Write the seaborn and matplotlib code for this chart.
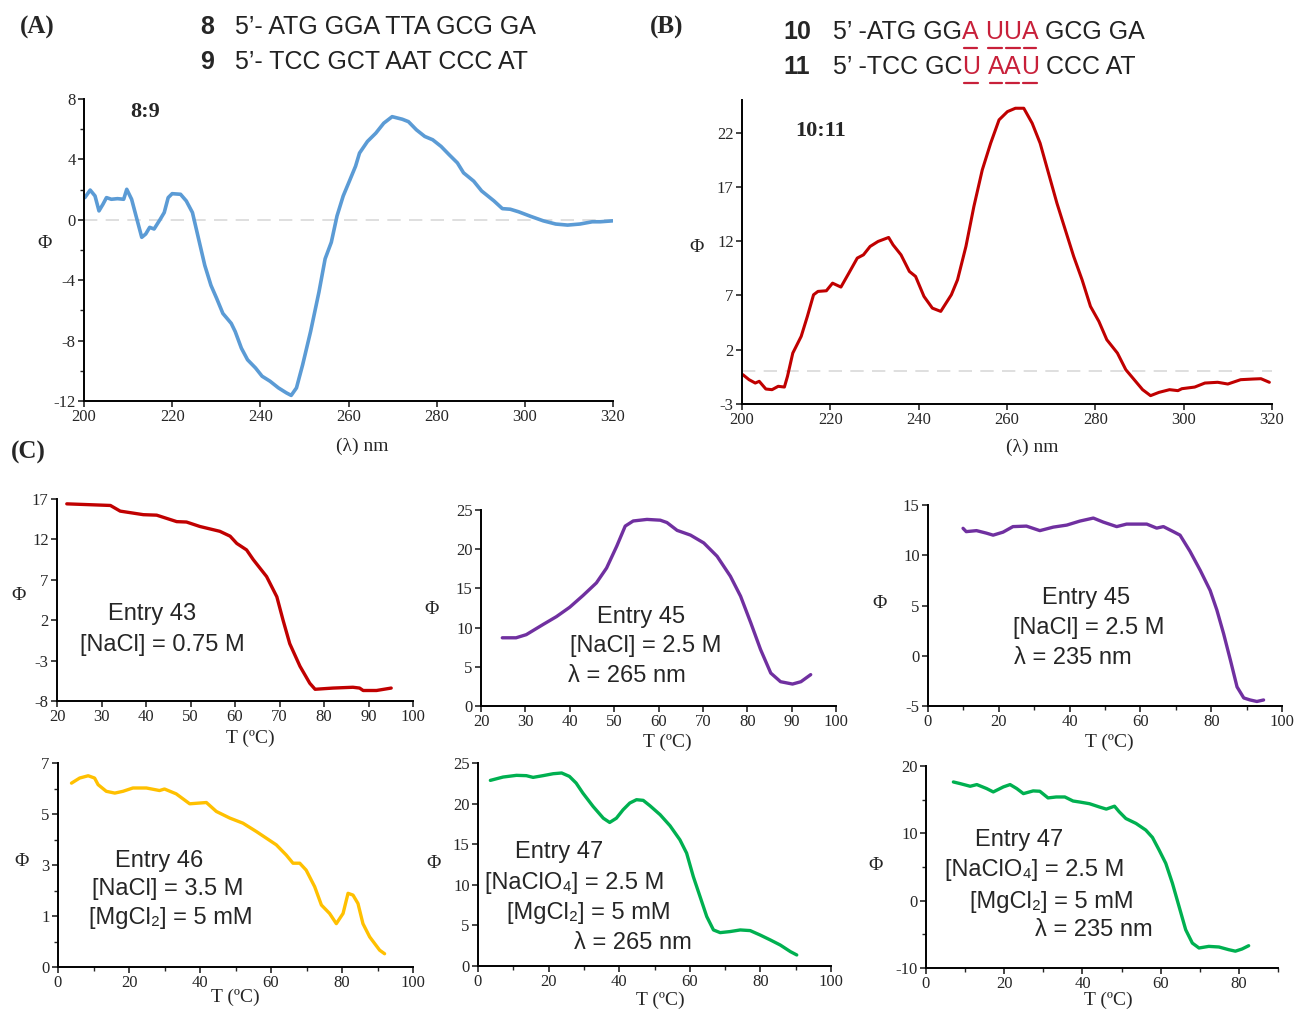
import matplotlib
matplotlib.use("Agg")
import matplotlib.pyplot as plt
import seaborn as sns
import numpy as np
from matplotlib.ticker import MultipleLocator, FixedLocator

# Panel A: CD spectrum of 8:9
a_wl=[200.2,201.4,202.5,203.4,204.3,205.1,206.2,207.6,209.0,209.7,210.8,212.0,213.1,214.0,214.9,215.9,217.3,218.2,219.1,220.0,
	221.9,223.2,224.6,226.0,227.4,228.8,230.1,231.5,233.4,234.3,235.7,237.1,238.9,240.4,242.2,244.1,245.9,247.0,248.2,249.6,
	251.4,253.3,254.7,256.1,257.4,258.8,260.2,261.6,262.5,264.3,266.2,268.0,269.9,272.2,273.6,275.4,277.3,279.1,281.0,282.8,
	284.7,286.1,288.4,290.2,293.0,294.9,296.7,298.6,301.4,304.2,307.0,309.7,312.5,315.3,317.1,319.9]
a_phi=[1.47,1.97,1.58,0.59,1.03,1.47,1.36,1.40,1.36,2.02,1.36,0.04,-1.16,-0.94,-0.50,-0.61,0.04,0.48,1.47,1.73,
	1.69,1.25,0.48,-1.27,-3.02,-4.34,-5.21,-6.20,-6.86,-7.40,-8.50,-9.27,-9.81,-10.36,-10.69,-11.13,-11.46,-11.63,-11.13,-9.60,
	-7.40,-4.78,-2.58,-1.49,0.26,1.58,2.56,3.55,4.42,5.19,5.74,6.40,6.83,6.66,6.50,5.96,5.52,5.30,4.86,4.32,
	3.77,3.11,2.56,1.91,1.25,0.74,0.70,0.53,0.22,-0.07,-0.28,-0.35,-0.28,-0.13,-0.13,-0.07]
a_yticks=[-12,-8,-4,0,4,8]

# Panel B: CD spectrum of 10:11
b_wl=[200.2,201.6,203.0,203.9,205.4,206.8,208.2,209.6,210.3,211.5,213.4,214.8,216.2,217.2,219.1,220.5,222.4,224.2,226.1,227.5,
	229.0,230.8,233.2,234.2,236.0,237.9,239.3,241.2,243.1,245.0,247.4,248.8,250.7,252.5,254.4,256.3,258.2,260.1,261.9,263.8,
	265.7,267.5,269.4,271.3,273.2,275.1,277.0,278.9,280.8,282.6,285.0,286.9,288.8,290.7,292.5,294.4,296.8,298.7,299.6,302.5,
	304.8,307.7,310.0,312.9,315.7,317.5,319.4]
b_phi=[-0.30,-0.76,-1.07,-0.91,-1.62,-1.68,-1.37,-1.44,-0.45,1.69,3.23,5.07,7.06,7.37,7.43,8.13,7.77,9.06,10.44,10.74,
	11.51,11.97,12.34,11.66,10.74,9.21,8.75,6.91,5.83,5.53,7.06,8.44,11.51,15.19,18.56,21.02,23.17,23.93,24.24,24.24,
	22.86,21.02,18.26,15.50,13.04,10.59,8.44,5.99,4.61,2.92,1.69,0.16,-0.76,-1.68,-2.23,-1.93,-1.68,-1.77,-1.59,-1.44,
	-1.07,-1.00,-1.16,-0.76,-0.70,-0.67,-1.00]
b_yticks=[-3,2,7,12,17,22]

# Panel C: melting curves
e43_t=[22.2,32.0,34.2,39.4,42.4,46.9,49.1,52.1,56.6,58.9,60.4,62.6,64.1,67.1,69.4,70.8,72.3,74.6,76.8,78.0,82.0,86.5,88.0,88.8,91.8,95.1]
e43_phi=[16.4,16.2,15.5,15.06,15.0,14.2,14.15,13.6,13.0,12.4,11.5,10.7,9.5,7.4,4.9,2.0,-0.9,-3.7,-5.8,-6.55,-6.4,-6.3,-6.4,-6.7,-6.7,-6.4]
e43_yticks=[-8,-3,2,7,12,17]

e45a_t=[24.8,27.9,30.2,34.0,37.0,40.0,43.0,46.0,48.3,50.6,52.5,54.3,57.4,60.4,61.9,64.2,67.2,70.2,73.2,76.2,78.5,80.8,83.0,85.3,87.5,90.2,92.1,94.3]
e45a_phi=[8.7,8.7,9.1,10.4,11.4,12.6,14.1,15.7,17.6,20.4,22.95,23.6,23.8,23.7,23.4,22.4,21.8,20.8,19.1,16.55,14.0,10.6,7.2,4.2,3.1,2.8,3.1,4.0]
e45a_yticks=[0,5,10,15,20,25]

e45b_t=[9.9,10.8,13.7,16.5,18.4,21.2,24.0,27.8,31.6,35.4,39.2,42.9,46.7,49.5,53.3,56.1,59.0,61.8,64.6,66.5,69.3,71.2,74.0,76.9,79.7,81.6,83.5,85.4,87.3,89.2,91.0,92.9,94.8]
e45b_phi=[12.68,12.35,12.45,12.2,12.0,12.3,12.85,12.9,12.45,12.8,13.0,13.4,13.7,13.3,12.85,13.1,13.1,13.1,12.7,12.85,12.35,12.0,10.4,8.5,6.5,4.55,2.2,-0.4,-3.1,-4.2,-4.4,-4.55,-4.4]
e45b_yticks=[-5,0,5,10,15]

e46_t=[3.8,6.1,8.5,10.3,11.3,13.6,16.0,18.3,21.1,24.9,28.6,30.0,33.3,37.1,39.9,41.8,44.6,48.4,52.1,55.9,58.7,61.5,64.3,66.2,68.1,69.9,72.3,74.2,76.5,78.4,80.3,81.7,83.1,84.5,85.9,87.8,90.6,92.0]
e46_phi=[6.21,6.41,6.50,6.41,6.15,5.89,5.82,5.89,6.02,6.02,5.92,5.98,5.79,5.40,5.43,5.45,5.10,4.84,4.64,4.31,4.05,3.79,3.39,3.07,3.07,2.80,2.15,1.43,1.10,0.70,1.10,1.89,1.82,1.49,0.70,0.18,-0.34,-0.48]
e46_yticks=[-1,1,3,5,7]
e46_yticklabels=["0","1","3","5","7"]

e47a_t=[3.5,7.1,10.9,13.7,15.6,18.4,21.3,23.7,25.9,27.8,29.7,32.6,35.5,37.3,39.2,41.1,43.0,44.9,46.8,48.7,51.6,54.4,57.2,59.1,61.0,62.9,64.8,66.7,68.6,71.4,74.3,77.1,79.9,82.8,85.6,88.5,90.3]
e47a_phi=[22.86,23.27,23.48,23.44,23.23,23.44,23.68,23.77,23.35,22.53,21.3,19.65,18.2,17.68,18.2,19.24,20.07,20.48,20.4,19.74,18.63,17.27,15.54,13.9,11.0,8.55,6.09,4.44,4.11,4.24,4.44,4.36,3.82,3.21,2.59,1.77,1.36]
e47a_yticks=[0,5,10,15,20,25]

e47b_t=[7.0,8.7,11.3,13.0,15.5,17.2,19.8,21.5,23.2,24.9,27.4,29.1,31.2,33.3,35.5,37.6,39.3,41.8,44.4,46.1,48.2,49.4,51.1,53.7,56.2,57.9,59.6,61.3,63.0,64.7,66.4,68.1,69.8,72.3,74.9,77.4,79.1,80.8,82.5]
e47b_phi=[17.63,17.39,16.99,17.24,16.65,16.15,16.9,17.24,16.65,15.9,16.3,16.25,15.26,15.4,15.4,14.8,14.65,14.4,13.9,13.6,14.03,13.2,12.2,11.47,10.48,9.39,7.52,5.55,2.59,-0.86,-4.32,-6.3,-7.03,-6.79,-6.88,-7.28,-7.5,-7.18,-6.69]
e47b_yticks=[-10,0,10,20]

W,H=1294,1010
SANS=["Liberation Sans","DejaVu Sans"]
SERIF=["Liberation Serif","DejaVu Serif"]

sns.set_style("ticks")
plt.rcParams["font.family"]=SERIF
plt.rcParams["axes.unicode_minus"]=False

fig=plt.figure(figsize=(W/100,H/100),dpi=100)

def add_ax(l,r,t,b):
	ax=fig.add_axes([l/W,1-b/H,(r-l)/W,(b-t)/H])
	sns.despine(ax=ax)
	for s in ["left","bottom"]:
		ax.spines[s].set_linewidth(1.4)
		ax.spines[s].set_color("black")
	ax.tick_params(axis="both",which="major",direction="out",length=4,width=1.2,labelsize=12,pad=2)
	ax.tick_params(axis="both",which="minor",direction="out",length=3,width=1.0)
	return ax

def ftext(x,y,s,**kw):
	return fig.text(x/W,1-y/H,s,**kw)

def axis_labels(xl,phi_xy,xlab_xy):
	ftext(phi_xy[0],phi_xy[1],"Φ",fontsize=14,ha="center",va="center")
	ftext(xlab_xy[0],xlab_xy[1],xl,fontsize=14,ha="center",va="center")

# ---- Panel A
ax=add_ax(84,613,99,401)
ax.axhline(0,color="#D9D9D9",lw=1.2,dashes=(8,5),zorder=0)
sns.lineplot(x=a_wl,y=a_phi,color="#5B9BD5",lw=2.6,ax=ax)
ax.set_xlim(200,320)
ax.set_ylim(-12,8)
ax.xaxis.set_major_locator(MultipleLocator(20))
ax.yaxis.set_major_locator(FixedLocator(a_yticks))
ax.yaxis.set_minor_locator(MultipleLocator(2))
ftext(145,112,"8:9",fontsize=16,fontweight="bold",ha="center",va="center")
axis_labels("(λ) nm",(45,243),(362,446))

# ---- Panel B
ax=add_ax(742,1272,100,404)
ax.axhline(0,color="#D9D9D9",lw=1.2,dashes=(8,5),zorder=0)
sns.lineplot(x=b_wl,y=b_phi,color="#C00000",lw=2.2,ax=ax)
ax.set_xlim(200,320)
ax.set_ylim(-3,25)
ax.xaxis.set_major_locator(MultipleLocator(20))
ax.yaxis.set_major_locator(FixedLocator(b_yticks))
ftext(821,131,"10:11",fontsize=16,fontweight="bold",ha="center",va="center")
axis_labels("(λ) nm",(697,248),(1032,447))

# ---- Panel C
c_specs=[
	(e43_t,e43_phi,"#C00000",(57,413,499,701),(20,100),(-8,17),10,None,e43_yticks,None,None,(19,596),(250,738),
		[("Entry 43",108,614),("[NaCl] = 0.75 M",80,645)]),
	(e45a_t,e45a_phi,"#7030A0",(481,836,510,706),(20,100),(0,25),10,None,e45a_yticks,None,None,(432,609),(667,742),
		[("Entry 45",597,617),("[NaCl] = 2.5 M",570,646),("λ = 265 nm",568,676)]),
	(e45b_t,e45b_phi,"#7030A0",(928,1282,505,706),(0,100),(-5,15),20,10,e45b_yticks,None,None,(880,603),(1109,742),
		[("Entry 45",1042,598),("[NaCl] = 2.5 M",1013,628),("λ = 235 nm",1014,658)]),
	(e46_t,e46_phi,"#FFC000",(58,413,763,967),(0,100),(-1,7),20,10,e46_yticks,e46_yticklabels,1,(22,862),(235,997),
		[("Entry 46",115,861),("[NaCl] = 3.5 M",92,889),("[MgCl₂] = 5 mM",89,918)]),
	(e47a_t,e47a_phi,"#00B050",(478,831,763,966),(0,100),(0,25),20,10,e47a_yticks,None,None,(434,864),(660,1000),
		[("Entry 47",515,852),("[NaClO₄] = 2.5 M",485,883),("[MgCl₂] = 5 mM",507,913),("λ = 265 nm",574,943)]),
	(e47b_t,e47b_phi,"#00B050",(926,1278,766,968),(0,90),(-10,20),20,10,e47b_yticks,None,5,(876,866),(1108,1000),
		[("Entry 47",975,840),("[NaClO₄] = 2.5 M",945,870),("[MgCl₂] = 5 mM",970,902),("λ = 235 nm",1035,930)]),
]

for t,phi,col,box,xl,yl,xmaj,xmin,yt,ytl,ymin,phi_xy,xlab_xy,notes in c_specs:
	ax=add_ax(*box)
	sns.lineplot(x=t,y=phi,color=col,lw=2.4,ax=ax)
	ax.set_xlim(*xl)
	ax.set_ylim(*yl)
	ax.xaxis.set_major_locator(MultipleLocator(xmaj))
	if xmin:
		ax.xaxis.set_minor_locator(MultipleLocator(xmin))
	ax.yaxis.set_major_locator(FixedLocator(yt))
	if ytl:
		ax.set_yticklabels(ytl)
	if ymin:
		ax.yaxis.set_minor_locator(MultipleLocator(ymin))
	axis_labels("T (ºC)",phi_xy,xlab_xy)
	for s,x,y in notes:
		ftext(x,y,s,fontsize=17,family=SANS,ha="left",va="center")

# Panel letters
ftext(37,27,"(A)",fontsize=18,fontweight="bold",ha="center",va="center")
ftext(667,27,"(B)",fontsize=18,fontweight="bold",ha="center",va="center")
ftext(28,452,"(C)",fontsize=18,fontweight="bold",ha="center",va="center")

# Sequences
SEQ=18
ftext(207,27,"8",fontsize=SEQ,fontweight="bold",family=SANS,ha="center",va="center")
ftext(235,27,"5’- ATG GGA TTA GCG GA",fontsize=SEQ,family=SANS,ha="left",va="center",color="#222222")
ftext(207,62,"9",fontsize=SEQ,fontweight="bold",family=SANS,ha="center",va="center")
ftext(235,62,"5’- TCC GCT AAT CCC AT",fontsize=SEQ,family=SANS,ha="left",va="center",color="#222222")

ftext(797,32,"10",fontsize=SEQ,fontweight="bold",family=SANS,ha="center",va="center")
ftext(797,67,"11",fontsize=SEQ,fontweight="bold",family=SANS,ha="center",va="center")

RED="#C8203A"
renderer=fig.canvas.get_renderer()
def chain(x0,y0,parts):
	x=x0
	for s,color,ul,gap in parts:
		x+=gap
		tx=ftext(x,y0,s,fontsize=SEQ,family=SANS,ha="left",va="center",color=color)
		bb=tx.get_window_extent(renderer)
		if ul:
			yy=y0+16
			fig.add_artist(plt.Line2D([(bb.x0+2)/W,(bb.x1-2)/W],[1-yy/H,1-yy/H],color=RED,lw=1.6,transform=fig.transFigure))
		x=bb.x1

sp=7
chain(833,32,[("5’ -ATG GG","#222222",False,0),("A",RED,True,0),("U",RED,True,sp),("U",RED,True,0),("A",RED,True,0),("GCG GA","#222222",False,sp)])
chain(833,67,[("5’ -TCC GC","#222222",False,0),("U",RED,True,0),("A",RED,True,sp),("A",RED,True,0),("U",RED,True,0),("CCC AT","#222222",False,sp)])

fig.savefig("out.png",dpi=100)
